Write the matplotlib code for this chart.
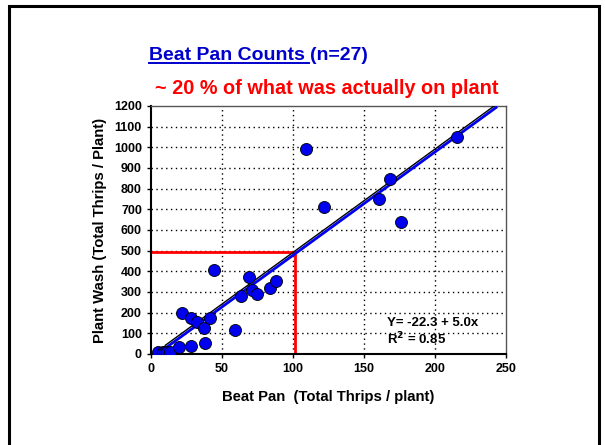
import numpy as np
import matplotlib
matplotlib.use("Agg")
import matplotlib.pyplot as plt
from matplotlib.lines import Line2D
from matplotlib.patches import Rectangle

plt.rcParams["font.family"] = ["Liberation Sans", "DejaVu Sans"]
plt.rcParams["font.weight"] = "bold"
plt.rcParams["axes.labelweight"] = "bold"

# data
beat_pan = [5, 8.5, 10, 11.5, 13.5, 20, 22, 28, 28.2, 32.6, 37.1, 38, 41.5, 44.4,
            59.4, 63.6, 69, 71.4, 74.9, 84, 88.3,
            109.2, 122, 160.6, 168.3, 175.8, 215.5]
plant_wash = [8, 11, 9, 8, 11, 34, 200, 39, 176, 153, 126, 55, 172, 405,
              116, 279, 371, 308, 292, 321, 353,
              992, 713, 751, 848, 639, 1051]
intercept = -22.3
slope = 5.0
fit_range = [10, 243]
ref_x = 101.5
ref_y = 495
x_ticks = [0, 50, 100, 150, 200, 250]
y_ticks = list(range(0, 1201, 100))

fig = plt.figure(figsize=(6.05, 4.45), dpi=100)
ax = fig.add_axes([0.2496, 0.2045, 0.5868, 0.5573])

# grid
for xv in x_ticks[1:-1]:
    ax.axvline(xv, color="black", ls=(0, (1, 2.5)), lw=1, zorder=1)
for yv in y_ticks[1:-1]:
    ax.axhline(yv, color="black", ls=(0, (1, 2.5)), lw=1, zorder=1)

# reference lines (red)
ax.plot([0, ref_x], [ref_y, ref_y], color="#FF0000", lw=2, zorder=2)
ax.plot([ref_x, ref_x], [0, ref_y], color="#FF0000", lw=2, zorder=2)

# fitted lines
fx = np.array(fit_range)
ax.plot(fx, intercept + 14 + slope * fx, color="black", lw=1, zorder=3)
ax.plot(fx, intercept + slope * fx, color="#0000EE", lw=2, zorder=3)

ax.scatter(beat_pan, plant_wash, s=75, color="#0000EE", edgecolor="black",
           linewidth=0.6, zorder=4)

ax.set_xlim(0, 250)
ax.set_ylim(0, 1200)
ax.set_xticks(x_ticks)
ax.set_yticks(y_ticks)
ax.tick_params(labelsize=9, direction="out", length=3, width=1)
for lab in ax.get_xticklabels() + ax.get_yticklabels():
    lab.set_fontweight("bold")
for side in ["left", "bottom"]:
    ax.spines[side].set_linewidth(1.5)
for side in ["top", "right"]:
    ax.spines[side].set_color("#555555")
    ax.spines[side].set_linewidth(1)

ax.set_xlabel("Beat Pan  (Total Thrips / plant)", fontsize=10.7,
              fontweight="bold", labelpad=11)
ax.set_ylabel("Plant Wash (Total Thrips / Plant)", fontsize=10.7,
              fontweight="bold", labelpad=5)

ax.text(166, 152, "Y= -22.3 + 5.0x", fontsize=9.5, fontweight="bold",
        va="center")
ax.text(166, 72, "R$^\\mathbf{2}$ = 0.85", fontsize=9.5, fontweight="bold",
        va="center")

# titles
blue = "#0000CC"
t1 = fig.text(149 / 605, 1 - 55 / 445, "Beat Pan Counts ", fontsize=14,
              fontweight="bold", color=blue, va="center", ha="left")
fig.canvas.draw()
bb = t1.get_window_extent().transformed(fig.transFigure.inverted())
fig.text(bb.x1, 1 - 55 / 445, "(n=27)", fontsize=14, fontweight="bold",
         color=blue, va="center", ha="left")
fig.add_artist(Line2D([bb.x0, bb.x1 - 0.002], [1 - 63 / 445] * 2,
                      color=blue, lw=1.4, transform=fig.transFigure))
fig.text(155 / 605, 1 - 89 / 445, "~ 20 % of what was actually on plant",
         fontsize=14.3, fontweight="bold", color="#FF0000", va="center",
         ha="left")

# frame around the slide
fig.add_artist(Rectangle((9 / 605, -0.05), 590 / 605, 1.05 - 6 / 445,
                         fill=False, edgecolor="black", lw=2.2,
                         transform=fig.transFigure))

fig.savefig("out.png", dpi=100)
